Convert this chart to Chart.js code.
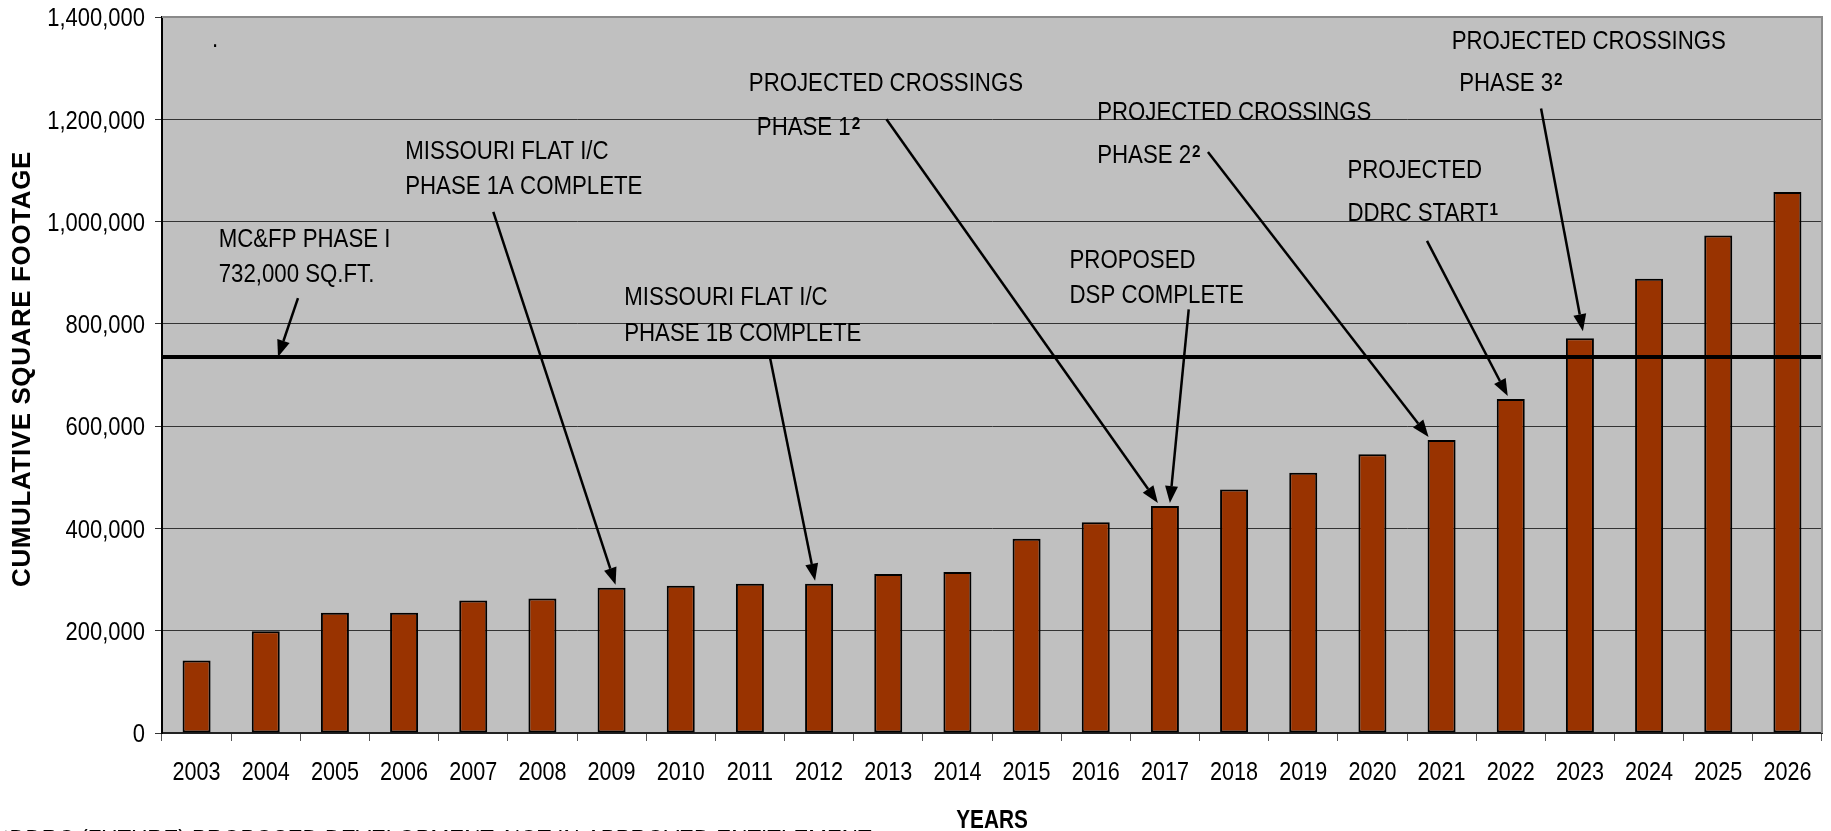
<!DOCTYPE html>
<html>
<head>
<meta charset="utf-8">
<title>Cumulative square footage</title>
<script src="https://cdn.jsdelivr.net/npm/chart.js@4.4.1/dist/chart.umd.min.js"></script>
<style>
  html, body { margin: 0; padding: 0; background: #fff; }
  canvas { display: block; }
</style>
</head>
<body>
<canvas id="chart" width="1831" height="831"></canvas>
<script>
// data
const years = ["2003", "2004", "2005", "2006", "2007", "2008", "2009", "2010",
  "2011", "2012", "2013", "2014", "2015", "2016", "2017", "2018", "2019", "2020",
  "2021", "2022", "2023", "2024", "2025", "2026"];
const squareFeet = [142000, 199000, 235000, 235000, 259000, 263000, 284000, 288000,
  292000, 292000, 311000, 315000, 380000, 412000, 444000, 476000, 509000, 545000,
  573000, 653000, 772000, 888000, 973000, 1058000];
const yTicks = [0, 200000, 400000, 600000, 800000, 1000000, 1200000, 1400000];
const phaseOneLine = 735000;

// no Arial Narrow here, so squeeze Liberation Sans sideways
const FONT = "'Liberation Sans', Arial, sans-serif";
const CAP = 0.716;

// callouts: at = [category index, value] of first baseline
const notes = [
  { lines: ["MC&FP PHASE I", "732,000 SQ.FT."], at: [0.32, 950600], gap: 35 },
  { lines: ["MISSOURI FLAT I/C", "PHASE 1A COMPLETE"], at: [3.016, 1121400], gap: 34.7 },
  { lines: ["MISSOURI FLAT I/C", "PHASE 1B COMPLETE"], at: [6.183, 836700], gap: 35.7 },
  { lines: ["PROJECTED CROSSINGS", "PHASE 1"], sup: "2", at: [7.984, 1255400], gap: 44.3, dx2: 8 },
  { lines: ["PROPOSED", "DSP COMPLETE"], at: [12.621, 908400], gap: 35 },
  { lines: ["PROJECTED CROSSINGS", "PHASE 2"], sup: "2", at: [13.021, 1199500], gap: 43.4 },
  { lines: ["PROJECTED", "DDRC START"], sup: "1", at: [16.638, 1085400], gap: 43 },
  { lines: ["PROJECTED CROSSINGS", "PHASE 3"], sup: "2", at: [18.146, 1338200], gap: 42.7, dx2: 7.5 },
  { lines: ["."], at: [0.222, 1341300], gap: 0 }
];

// arrows: from = [category index, value]; tip on a bar top or on the phase line
const arrows = [
  { from: [1.466, 850400], toLine: 1.177 },
  { from: [4.29, 1019000], bar: 6, dx: 4 },
  { from: [8.288, 735700], bar: 9, dx: -4 },
  { from: [9.974, 1200100], bar: 14, dx: -7 },
  { from: [14.344, 828300], bar: 14, dx: 5 },
  { from: [14.622, 1136200], bar: 18, dx: -13 },
  { from: [17.789, 962300], bar: 19, dx: -3 },
  { from: [19.438, 1221000], bar: 20, dx: 3, dy: -4 }
];

// draws text squeezed horizontally, returns drawn width
function narrowText(ctx, text, x, y, size, opts) {
  const o = Object.assign({ weight: "normal", squeeze: 0.85, align: "left" }, opts);
  ctx.save();
  ctx.font = o.weight + " " + size + "px " + FONT;
  ctx.textBaseline = "alphabetic";
  ctx.textAlign = o.align;
  ctx.translate(x, y);
  ctx.scale(o.squeeze, 1);
  ctx.fillText(text, 0, 0);
  const w = ctx.measureText(text).width * o.squeeze;
  ctx.restore();
  return w;
}

function drawArrow(ctx, x1, y1, x2, y2) {
  const ang = Math.atan2(y2 - y1, x2 - x1);
  const len = 17, half = 6.5;
  const bx = x2 - len * Math.cos(ang), by = y2 - len * Math.sin(ang);
  ctx.beginPath();
  ctx.moveTo(x1, y1);
  ctx.lineTo(bx, by);
  ctx.stroke();
  ctx.beginPath();
  ctx.moveTo(x2, y2);
  ctx.lineTo(bx + half * Math.sin(ang), by - half * Math.cos(ang));
  ctx.lineTo(bx - half * Math.sin(ang), by + half * Math.cos(ang));
  ctx.closePath();
  ctx.fill();
}

const plotFrame = {
  id: "plotFrame",
  beforeDraw(chart) {
    const { ctx, chartArea: a } = chart;
    ctx.save();
    ctx.fillStyle = "#c0c0c0";
    ctx.fillRect(a.left, a.top, a.right - a.left, a.bottom - a.top);
    ctx.restore();
  },
  afterDraw(chart) {
    const { ctx, chartArea: a } = chart;
    const xs = chart.scales.x, ys = chart.scales.y;
    ctx.save();
    ctx.strokeStyle = "#8a8a8a";
    ctx.lineWidth = 2;
    ctx.beginPath();
    ctx.moveTo(a.left, a.top);
    ctx.lineTo(a.right, a.top);
    ctx.lineTo(a.right, a.bottom);
    ctx.stroke();

    // tick labels, placed by the scales
    ctx.fillStyle = "#000";
    ys.ticks.forEach((t, i) => {
      const y = ys.getPixelForTick(i);
      narrowText(ctx, t.value.toLocaleString("en-US"), ys.right - 17, y + 26 * CAP / 2, 26,
        { align: "right", squeeze: 0.845 });
    });
    xs.ticks.forEach((t, i) => {
      narrowText(ctx, years[t.value], xs.getPixelForTick(i), xs.top + 47, 26,
        { align: "center", squeeze: 0.83 });
    });
    narrowText(ctx, "YEARS", (a.left + a.right) / 2, 828, 26,
      { align: "center", weight: "bold", squeeze: 0.8 });

    // y axis title
    ctx.save();
    ctx.translate(23, (a.top + a.bottom) / 2 - 6);
    ctx.rotate(-Math.PI / 2);
    ctx.font = "bold 26px " + FONT;
    ctx.letterSpacing = "0.6px";
    ctx.textAlign = "center";
    ctx.textBaseline = "middle";
    ctx.fillText("CUMULATIVE SQUARE FOOTAGE", 0, 0);
    ctx.restore();

    // footnote, cut off by the bottom edge
    narrowText(ctx, "\u00b9DDRC (FUTURE) PROPOSED DEVELOPMENT, NOT IN APPROVED ENTITLEMENT",
      2, 848.3, 26, { squeeze: 0.86 });
    ctx.restore();
  }
};

const callouts = {
  id: "callouts",
  afterDatasetsDraw(chart) {
    const { ctx, chartArea: a } = chart;
    const xs = chart.scales.x, ys = chart.scales.y;
    const px = i => xs.getPixelForValue(0) + i * (xs.getPixelForValue(1) - xs.getPixelForValue(0));
    const lineY = ys.getPixelForValue(phaseOneLine);

    ctx.save();
    ctx.strokeStyle = "#000";
    ctx.lineWidth = 4;
    ctx.beginPath();
    ctx.moveTo(a.left, lineY);
    ctx.lineTo(a.right, lineY);
    ctx.stroke();

    ctx.fillStyle = "#000";
    notes.forEach(n => {
      const x0 = px(n.at[0]);
      const y0 = ys.getPixelForValue(n.at[1]);
      n.lines.forEach((t, k) => {
        const x = x0 + (k > 0 && n.dx2 ? n.dx2 : 0);
        const y = y0 + k * n.gap;
        const w = narrowText(ctx, t, x, y, 26, { squeeze: 0.855 });
        if (n.sup && k === n.lines.length - 1) {
          narrowText(ctx, n.sup, x + w + 1, y - 26 * CAP + 12.5, 17,
            { weight: "bold", squeeze: 0.9 });
        }
      });
    });

    ctx.lineWidth = 2.5;
    arrows.forEach(r => {
      const x1 = px(r.from[0]), y1 = ys.getPixelForValue(r.from[1]);
      let x2, y2;
      if (r.toLine !== undefined) {
        x2 = px(r.toLine);
        y2 = lineY;
      } else {
        x2 = xs.getPixelForValue(r.bar) + (r.dx || 0);
        y2 = ys.getPixelForValue(squareFeet[r.bar]) - 3 + (r.dy || 0);
      }
      drawArrow(ctx, x1, y1, x2, y2);
    });
    ctx.restore();
  }
};

new Chart(document.getElementById("chart"), {
  type: "bar",
  data: {
    labels: years,
    datasets: [
      {
        label: "Cumulative square footage",
        data: squareFeet,
        backgroundColor: "#993300",
        borderColor: "#000",
        borderWidth: 2,
        borderSkipped: false,
        barPercentage: 0.405,
        categoryPercentage: 1
      }
    ]
  },
  options: {
    responsive: false,
    animation: false,
    layout: { padding: { top: 17, right: 9, bottom: 0, left: 0 } },
    plugins: {
      legend: { display: false },
      tooltip: { enabled: false }
    },
    scales: {
      x: {
        afterFit: s => { s.height = 98; },
        grid: { offset: true, drawOnChartArea: false, tickLength: 8, color: "#555", lineWidth: 1 },
        border: { color: "#222", width: 2 },
        ticks: { display: false, autoSkip: false, maxRotation: 0 }
      },
      y: {
        min: 0,
        max: 1400000,
        afterFit: s => { s.width = 162; },
        afterBuildTicks: s => { s.ticks = yTicks.map(v => ({ value: v })); },
        grid: { color: "#333", lineWidth: 1, tickLength: 7 },
        border: { color: "#000", width: 2 },
        ticks: { display: false }
      }
    }
  },
  plugins: [plotFrame, callouts]
});
</script>
</body>
</html>
